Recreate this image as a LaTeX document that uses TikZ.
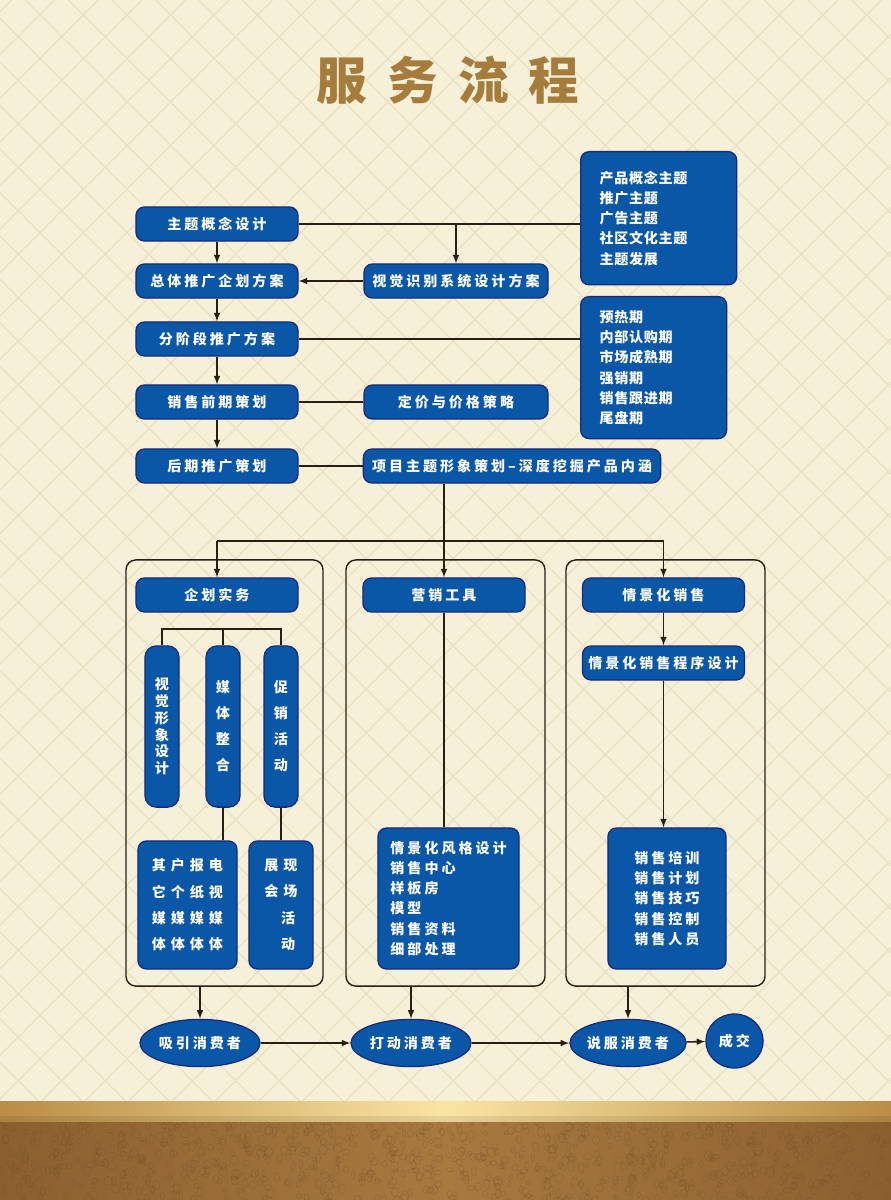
\documentclass[tikz,border=0pt]{standalone}
\usepackage{fontspec}
\usetikzlibrary{shapes.geometric,positioning}
\newfontfamily\cjk{Noto Sans CJK SC}[LetterSpace=21]
\newfontfamily\cjklist{Noto Sans CJK SC}[LetterSpace=5]
\newfontfamily\cjkwide{Noto Sans CJK SC}[LetterSpace=35]
\newfontfamily\cjktitle{Noto Sans CJK SC}[LetterSpace=40]
\definecolor{paper}{HTML}{F6F0D9}
\definecolor{lattice}{HTML}{EAE1C3}
\definecolor{boxblue}{HTML}{0B57A7}
\definecolor{boxline}{HTML}{1A2A7A}
\definecolor{wire}{HTML}{2A1D12}
\definecolor{gold}{HTML}{A67C3D}
\definecolor{bandlo}{HTML}{B98D45}
\definecolor{bandhi}{HTML}{FAE4A4}
\definecolor{leather}{HTML}{A87A40}
\definecolor{leatherdk}{HTML}{8C5F30}
\begin{document}
\begin{tikzpicture}[x=0.025cm, y=-0.025cm]
        \tikzset{ block/.style={rectangle,draw=boxline,fill=boxblue,line width=0.9pt,rounded corners=6pt,text=white,
                        font=\cjk\bfseries\fontsize{10}{12}\selectfont,minimum width=4.05cm,minimum height=0.85cm,inner sep=0pt,align=center},
                listbox/.style={block,font=\cjklist\bfseries\fontsize{10}{14.4}\selectfont,align=left,anchor=north west},
                pill/.style={block,rounded corners=8pt,minimum width=0.85cm,minimum height=4.03cm},
                oval/.style={ellipse,draw=boxline,fill=boxblue,line width=0.9pt,text=white,
                        font=\cjk\bfseries\fontsize{10}{12}\selectfont,minimum width=3cm,minimum height=1.18cm,inner sep=0pt},
                panel/.style={rectangle,draw=wire,line width=1pt,rounded corners=7pt,inner sep=0pt},
                conn/.style={draw=wire,line width=1.1pt},
                arrow/.style={conn,-latex}}

        % fond
        \fill[paper] (0,0) rectangle (891,1200);
        \begin{scope}
                \clip (0,0) rectangle (891,1101);
                \foreach \k in {-26,...,22}
                        \draw[lattice,line width=0.9pt] (25+\k*43.5,0) -- ++(1110,1110);
                \foreach \k in {-2,...,47}
                        \draw[lattice,line width=0.9pt] (55+\k*43.5,0) -- ++(-1110,1110);
        \end{scope}
        \shade[left color=bandlo,right color=bandlo,middle color=bandhi] (0,1101) rectangle (891,1122);
        \fill[black,opacity=0.08] (0,1116) rectangle (891,1122);
        \shade[left color=leatherdk,right color=leatherdk,middle color=leather] (0,1122) rectangle (891,1200);
        \pgfmathsetseed{7}
        \begin{scope}
                \clip (0,1122) rectangle (891,1200);
                \foreach \i in {1,...,900}
                        \draw[leatherdk!80!black,opacity=0.3,line width=0.4pt] (rnd*891,1120+rnd*84) ellipse ({1.5+rnd*3} and {2+rnd*3});
        \end{scope}

        % titre
        \node[text=gold, font=\cjktitle\bfseries\fontsize{36}{40}\selectfont] (title) at (448,80) {服务流程};

        % colonne gauche
        \node[block] (theme) at (217,224) {主题概念设计};
        \node[block] (overall) at (217,281) {总体推广企划方案};
        \node[block] (stage) at (217,339) {分阶段推广方案};
        \node[block] (presale) at (217,402) {销售前期策划};
        \node[block] (later) at (217,466) {后期推广策划};

        \node[block, minimum width=4.6cm] (vis) at (456,281) {视觉识别系统设计方案};
        \node[block, minimum width=4.6cm] (price) at (456,402) {定价与价格策略};
        \node[block, minimum width=7.43cm] (image) at (512,466) {项目主题形象策划–深度挖掘产品内涵};

        \node[listbox, minimum width=3.9cm, minimum height=3.33cm, text width=2.95cm, inner xsep=0.475cm] (list1) at (580,151)
                {产品概念主题\\推广主题\\广告主题\\社区文化主题\\主题发展};
        \node[listbox, minimum width=3.65cm, minimum height=3.55cm, text width=2.7cm, inner xsep=0.475cm] (list2) at (580,296)
                {预热期\\内部认购期\\市场成熟期\\强销期\\销售跟进期\\尾盘期};

        % Flèches
        \draw[arrow] (theme) -- (overall);
        \draw[arrow] (overall) -- (stage);
        \draw[arrow] (stage) -- (presale);
        \draw[arrow] (presale) -- (later);
        \draw[conn] (theme) -- (theme -| list1.west);
        \draw[arrow] (vis.north |- theme) -- (vis.north);
        \draw[arrow] (vis) -- (overall);
        \draw[conn] (stage) -- (stage -| list2.west);
        \draw[conn] (presale) -- (price);
        \draw[conn] (later) -- (image);

        % trois cadres
        \node[panel, minimum width=4.925cm, minimum height=10.65cm] (pan1) at (224.5,773) {};
        \node[panel, minimum width=4.975cm, minimum height=10.65cm] (pan2) at (445.5,773) {};
        \node[panel, minimum width=4.975cm, minimum height=10.65cm] (pan3) at (665.5,773) {};

        \node[block] (plan) at (217,595) {企划实务};
        \node[block] (tools) at (444,595) {营销工具};
        \node[block] (scene) at (663.5,595) {情景化销售};
        \node[block] (sceneprog) at (663.5,663) {情景化销售程序设计};

        \coordinate (split) at (444,541);
        \draw[conn] (image.south -| tools) -- (split);
        \draw[conn] (plan.north |- split) -- (scene.north |- split);
        \draw[arrow] (plan.north |- split) -- (plan.north);
        \draw[arrow] (split) -- (tools.north);
        \draw[arrow] (scene.north |- split) -- (scene.north);

        %企划实务
        \node[pill, font=\cjk\bfseries\fontsize{10}{11.9}\selectfont] (vlogo) at (162,726.5) {视\\觉\\形\\象\\设\\计};
        \node[pill, font=\cjk\bfseries\fontsize{10}{18.5}\selectfont] (media) at (223,726.5) {媒\\体\\整\\合};
        \node[pill, font=\cjk\bfseries\fontsize{10}{18.5}\selectfont] (promo) at (281,726.5) {促\\销\\活\\动};
        \coordinate (brk) at (223,629);
        \draw[conn] (vlogo.north) |- (brk) -| (promo.north);
        \draw[conn] (media.north) -- (brk);

        \node[block, font=\cjkwide\bfseries\fontsize{10}{18.7}\selectfont, minimum width=2.475cm, minimum height=3.2cm] (boxA) at (187.5,905)
                {其户报电\\它个纸视\\媒媒媒媒\\体体体体};
        \node[block, font=\cjkwide\bfseries\fontsize{10}{18.7}\selectfont, minimum width=1.6cm, minimum height=3.2cm] (boxB) at (281,905)
                {展现\\会场\\\phantom{展}活\\\phantom{展}动};
        \draw[conn] (media.south) -- (media.south |- boxA.north);
        \draw[conn] (promo) -- (boxB);

        % 营销工具
        \node[block, font=\cjk\bfseries\fontsize{10}{14.4}\selectfont, align=left, minimum width=3.525cm, minimum height=3.525cm,
                text width=2.9cm, inner xsep=0.31cm] (toolbox) at (448.5,898.5)
                {情景化风格设计\\销售中心\\样板房\\模型\\销售资料\\细部处理};
        \draw[conn] (tools.south) -- (tools.south |- toolbox.north);

        % 情景化销售
        \node[block, font=\cjk\bfseries\fontsize{10}{14.4}\selectfont, minimum width=2.95cm, minimum height=3.525cm] (salebox) at (667,898.5)
                {销售培训\\销售计划\\销售技巧\\销售控制\\销售人员};
        \draw[arrow] (scene) -- (sceneprog);
        \draw[arrow] (sceneprog.south) -- (sceneprog.south |- salebox.north);

        % ligne du bas
        \node[oval] (attract) at (200,1043) {吸引消费者};
        \node[oval] (touch) at (411,1043) {打动消费者};
        \node[oval, minimum width=2.9cm] (persuade) at (628,1043) {说服消费者};
        \node[oval, minimum width=1.43cm, minimum height=1.35cm] (deal) at (734.5,1041) {成交};

        \draw[arrow] (attract.north |- pan1.south) -- (attract.north);
        \draw[arrow] (touch.north |- pan2.south) -- (touch.north);
        \draw[arrow] (persuade.north |- pan3.south) -- (persuade.north);
        \draw[arrow] (attract) -- (touch);
        \draw[arrow] (touch) -- (persuade);
        \draw[arrow] (persuade) -- (deal);
\end{tikzpicture}
\end{document}
